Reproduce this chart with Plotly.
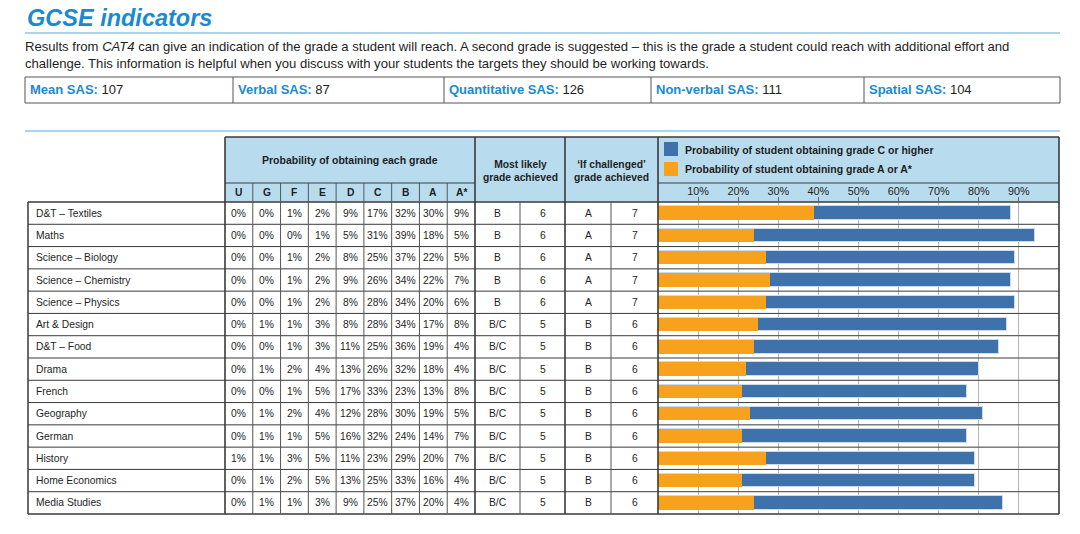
import plotly.graph_objects as go

W, H = 1080, 534

subjects = ["D&T – Textiles", "Maths", "Science – Biology", "Science – Chemistry",
            "Science – Physics", "Art & Design", "D&T – Food", "Drama", "French",
            "Geography", "German", "History", "Home Economics", "Media Studies"]
grades = ["U", "G", "F", "E", "D", "C", "B", "A", "A*"]
prob_U = [0, 0, 0, 0, 0, 0, 0, 0, 0, 0, 0, 1, 0, 0]
prob_G = [0, 0, 0, 0, 0, 1, 0, 1, 0, 1, 1, 1, 1, 1]
prob_F = [1, 0, 1, 1, 1, 1, 1, 2, 1, 2, 1, 3, 2, 1]
prob_E = [2, 1, 2, 2, 2, 3, 3, 4, 5, 4, 5, 5, 5, 3]
prob_D = [9, 5, 8, 9, 8, 8, 11, 13, 17, 12, 16, 11, 13, 9]
prob_C = [17, 31, 25, 26, 28, 28, 25, 26, 33, 28, 32, 23, 25, 25]
prob_B = [32, 39, 37, 34, 34, 34, 36, 32, 23, 30, 24, 29, 33, 37]
prob_A = [30, 18, 22, 22, 20, 17, 19, 18, 13, 19, 14, 20, 16, 20]
prob_Astar = [9, 5, 5, 7, 6, 8, 4, 4, 8, 5, 7, 7, 4, 4]
most_likely = ["B"] * 5 + ["B/C"] * 9
most_likely_num = [6] * 5 + [5] * 9
challenged = ["A"] * 5 + ["B"] * 9
challenged_num = [7] * 5 + [6] * 9
c_or_higher = [88, 94, 89, 88, 89, 87, 85, 80, 77, 81, 77, 79, 79, 86]
a_or_astar = [39, 24, 27, 28, 27, 25, 24, 22, 21, 23, 21, 27, 21, 24]
tick_vals = [10, 20, 30, 40, 50, 60, 70, 80, 90]
tick_text = ["10%", "20%", "30%", "40%", "50%", "60%", "70%", "80%", "90%"]
sas_labels = ["Mean SAS:", "Verbal SAS:", "Quantitative SAS:", "Non-verbal SAS:", "Spatial SAS:"]
sas_values = [107, 87, 126, 111, 104]

prob_cols = [prob_U, prob_G, prob_F, prob_E, prob_D, prob_C, prob_B, prob_A, prob_Astar]

BLUE_T = "#1a8ad0"
RULE = "#8ec6ea"
HEAD = "#b8dcee"
LINE = "#3a3a3a"
TXT = "#1e1e1e"
FONT = "Liberation Sans, Arial, sans-serif"


def px(x):
    return x / W


def py(y):
    return 1 - y / H


shapes = []
annotations = []


def hline(y, x0, x1, color=LINE, width=1):
    shapes.append(dict(type="line", xref="paper", yref="paper", x0=px(x0), x1=px(x1),
                       y0=py(y), y1=py(y), line=dict(color=color, width=width)))


def vline(x, y0, y1, color=LINE, width=1):
    shapes.append(dict(type="line", xref="paper", yref="paper", x0=px(x), x1=px(x),
                       y0=py(y0), y1=py(y1), line=dict(color=color, width=width)))


def rect(x0, y0, x1, y1, fill, line_color=None, width=0, layer="below"):
    shapes.append(dict(type="rect", xref="paper", yref="paper", x0=px(x0), x1=px(x1),
                       y0=py(y0), y1=py(y1), fillcolor=fill, layer=layer,
                       line=dict(color=line_color or fill, width=width)))


def ann(x, y, text, size=10.5, color=TXT, xanchor="center"):
    annotations.append(dict(x=px(x), y=py(y), xref="paper", yref="paper", text=text,
                            showarrow=False, xanchor=xanchor, yanchor="middle",
                            borderpad=0, font=dict(family=FONT, size=size, color=color)))


# ---- Title and intro ----
ann(26, 18, "<b><i>GCSE indicators</i></b>", size=23.5, color=BLUE_T, xanchor="left")
hline(33, 25, 1060, RULE, 1.5)
ann(24, 47, "Results from <i>CAT4</i> can give an indication of the grade a student will reach. "
            "A second grade is suggested – this is the grade a student could reach with additional effort and",
    size=13.1, xanchor="left")
ann(24, 64, "challenge. This information is helpful when you discuss with your students the targets "
            "they should be working towards.", size=13.1, xanchor="left")

# ---- SAS box ----
sas_x = [25, 233, 444, 651, 864, 1060]
rect(25, 77, 1060, 103, "white", "#555555", 1, layer="above")
for i in range(1, 5):
    vline(sas_x[i], 77, 103, "#555555", 1)
for i, (lab, val) in enumerate(zip(sas_labels, sas_values)):
    ann(sas_x[i] + 4, 90, f"<b><span style='color:{BLUE_T}'>{lab}</span></b> {val}",
        size=13, xanchor="left")

hline(131, 25, 1060, RULE, 1.5)

# ---- Table geometry ----
T_TOP, T_MID, T_HB = 137, 183, 202
ROW_H = (514 - 202) / 14
X_SUB, X_G0, X_G1 = 28, 225, 475
X_ML_MID, X_CH0, X_CH_MID, X_BAR0, X_BAR1 = 520, 565, 611, 658, 1059
gw = (X_G1 - X_G0) / 9

rect(X_G0, T_TOP, X_BAR1, T_HB, HEAD)

ann((X_G0 + X_G1) / 2, 160, "<b>Probability of obtaining each grade</b>", size=10.5)
for j, g in enumerate(grades):
    ann(X_G0 + gw * (j + 0.5), 192.5, f"<b>{g}</b>", size=10.3)
ann((X_G1 + X_CH0) / 2, 170.5, "<b>Most likely<br>grade achieved</b>", size=10.3)
ann((X_CH0 + X_BAR0) / 2, 170.5, "<b>‘If challenged’<br>grade achieved</b>", size=10.3)

# legend
rect(664, 142, 678, 156, "#3f72aa", layer="above")
rect(664, 162, 678, 176, "#f7a11c", layer="above")
ann(684, 149.5, "<b>Probability of student obtaining grade C or higher</b>", size=10.5, xanchor="left")
ann(684, 169.5, "<b>Probability of student obtaining grade A or A*</b>", size=10.5, xanchor="left")

# header lines
hline(T_TOP, X_G0, X_BAR1, LINE, 1.5)
hline(T_MID, X_G0, X_G1, LINE, 1)
hline(T_MID, X_BAR0, X_BAR1, LINE, 1)
# row lines
for r in range(15):
    y = T_HB + r * ROW_H
    hline(y, X_SUB, X_BAR1, LINE, 1.6 if r in (0, 14) else 1)
# verticals
vline(X_SUB, T_HB, 514, LINE, 1.5)
for x in [X_G0, X_G1, X_CH0, X_BAR0]:
    vline(x, T_TOP, 514, LINE, 1.6)
vline(X_BAR1, T_TOP, 514, LINE, 1.6)
for j in range(1, 9):
    vline(X_G0 + gw * j, T_MID, 514, "#555555", 1)
vline(X_ML_MID, T_HB, 514, "#555555", 1)
vline(X_CH_MID, T_HB, 514, "#555555", 1)

# row text
for i, s in enumerate(subjects):
    yc = T_HB + ROW_H * (i + 0.5)
    ann(35, yc, s, size=10.3, xanchor="left")
    for j, col in enumerate(prob_cols):
        ann(X_G0 + gw * (j + 0.5), yc, f"{col[i]}%", size=10.3)
    ann((X_G1 + X_ML_MID) / 2, yc, most_likely[i], size=10.3)
    ann((X_ML_MID + X_CH0) / 2, yc, str(most_likely_num[i]), size=10.3)
    ann((X_CH0 + X_CH_MID) / 2, yc, challenged[i], size=10.3)
    ann((X_CH_MID + X_BAR0) / 2, yc, str(challenged_num[i]), size=10.3)

# ---- Bars ----
fig = go.Figure()
fig.add_trace(go.Bar(y=subjects, x=c_or_higher, orientation="h", width=0.6,
                     marker=dict(color="#3f72aa", line=dict(color="#c9dcef", width=1)),
                     name="Probability of student obtaining grade C or higher",
                     hoverinfo="x+y"))
fig.add_trace(go.Bar(y=subjects, x=a_or_astar, orientation="h", width=0.6,
                     marker=dict(color="#f7a11c", line=dict(width=0)),
                     name="Probability of student obtaining grade A or A*",
                     hoverinfo="x+y"))

fig.update_layout(
    width=W, height=H, margin=dict(l=0, r=0, t=0, b=0),
    paper_bgcolor="white", plot_bgcolor="rgba(0,0,0,0)",
    barmode="overlay", showlegend=False, bargap=0,
    font=dict(family=FONT, size=10.5, color=TXT),
    shapes=shapes, annotations=annotations,
    xaxis=dict(domain=[px(X_BAR0), px(X_BAR1)], range=[0, 100], side="top",
               tickvals=tick_vals, ticktext=tick_text, ticks="outside", ticklen=4,
               ticklabelstandoff=-2,
               tickcolor="#666666", showgrid=True, gridcolor="#b5b5b5", gridwidth=1,
               zeroline=False, showline=False, tickfont=dict(size=10.8, color="#222222"),
               fixedrange=True),
    yaxis=dict(domain=[py(514), py(T_HB)], range=[13.5, -0.5], showticklabels=False,
               showgrid=False, zeroline=False, ticks="", type="category", fixedrange=True),
)

fig.write_html("out.html", config={"displayModeBar": False},
               post_script="document.body.style.margin='0';")
